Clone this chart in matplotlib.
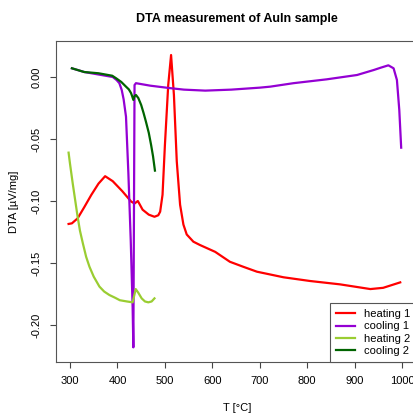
import matplotlib.pyplot as plt

plt.rcParams['font.family'] = ['Liberation Sans', 'DejaVu Sans']
plt.rcParams['axes.unicode_minus'] = False

# heating 1 (red)
h1_T = [297, 304, 310, 316, 330, 345, 360, 374, 390, 410, 429, 436, 443, 453, 466, 478,
        486, 490, 495, 500, 507, 513, 519, 525, 532, 539, 546, 560, 574, 606, 637, 665,
        694, 750, 806, 869, 933, 960, 996]
h1_v = [-0.1185, -0.118, -0.116, -0.114, -0.105, -0.095, -0.086, -0.080, -0.084, -0.092,
        -0.1005, -0.102, -0.100, -0.107, -0.111, -0.1127, -0.1115, -0.1086, -0.095, -0.055,
        -0.0065, 0.0177, -0.0145, -0.068, -0.103, -0.119, -0.127, -0.1328, -0.1355, -0.141,
        -0.149, -0.153, -0.157, -0.1615, -0.1645, -0.1672, -0.171, -0.170, -0.1656]

# cooling 1 (purple), in measured order from 1000 down
c1_T = [998, 994, 989, 982, 971, 955, 940, 905, 841, 771, 722, 700, 640, 585, 540, 511,
        469, 439, 436, 433.5, 432, 428, 423, 418, 413, 409, 404, 398, 390, 360, 330, 304]
c1_v = [-0.057, -0.0266, -0.0024, 0.007, 0.0094, 0.0075, 0.0056, 0.0016, -0.0019, -0.005,
        -0.0078, -0.0086, -0.0102, -0.011, -0.0102, -0.009, -0.007, -0.005, -0.0065, -0.218,
        -0.186, -0.132, -0.0774, -0.032, -0.018, -0.0105, -0.005, -0.0024, 0.0, 0.002,
        0.004, 0.007]

# heating 2 (light green)
h2_T = [297, 300, 305.7, 310, 316, 321, 327, 334, 341, 350, 362, 372, 383, 395, 405, 420,
        432, 438.5, 444, 451, 458, 465, 472, 478]
h2_v = [-0.061, -0.070, -0.0858, -0.097, -0.1126, -0.124, -0.134, -0.145, -0.153, -0.161,
        -0.169, -0.173, -0.1758, -0.178, -0.180, -0.181, -0.1817, -0.171, -0.174, -0.1785,
        -0.181, -0.1817, -0.181, -0.1785]

# cooling 2 (dark green), from 479 down
c2_T = [479, 475, 471, 466, 460, 455, 450, 444, 439, 436, 433.5, 431, 428.6, 424, 418,
        408, 397, 389, 360, 330, 304]
c2_v = [-0.0755, -0.064, -0.055, -0.045, -0.036, -0.029, -0.0226, -0.017, -0.0145,
        -0.0155, -0.0185, -0.0155, -0.013, -0.010, -0.0078, -0.004, -0.001, 0.001, 0.003,
        0.004, 0.007]

fig = plt.figure(figsize=(4.14, 4.13), dpi=100)
ax = fig.add_axes([0.1353, 0.1235, 0.875, 0.7772])

lw = 1.6
ax.plot(h1_T, h1_v, color='red', lw=lw, label='heating 1')
ax.plot(c1_T, c1_v, color='darkviolet', lw=lw, label='cooling 1')
ax.plot(h2_T, h2_v, color='yellowgreen', lw=lw, label='heating 2')
ax.plot(c2_T, c2_v, color='darkgreen', lw=lw, label='cooling 2')

ax.set_xlim(270.5, 1034)
ax.set_ylim(-0.2298, 0.029)
ax.set_xticks([300, 400, 500, 600, 700, 800, 900, 1000])
ax.set_yticks([0.0, -0.05, -0.10, -0.15, -0.20])
ax.set_yticklabels(['0.00', '-0.05', '-0.10', '-0.15', '-0.20'], rotation=90, va='center')
ax.tick_params(labelsize=8, length=4.3, color='#444444', pad=6)
for s in ax.spines.values():
    s.set_color('#555555')
ax.spines['right'].set_visible(False)

ax.set_title('DTA measurement of AuIn sample', fontsize=9, fontweight='bold', pad=14)
ax.set_xlabel('T [°C]', fontsize=8, labelpad=12)
ax.set_ylabel('DTA [µV/mg]', fontsize=8, labelpad=9)

leg = ax.legend(loc='lower right', bbox_to_anchor=(416 / 414, 0.1235),
                bbox_transform=fig.transFigure, borderaxespad=0, fontsize=8,
                fancybox=False, framealpha=1, edgecolor='#555555', handlelength=1.7,
                labelspacing=0.2, borderpad=0.55)
leg.get_frame().set_linewidth(0.8)

fig.savefig('out.png', dpi=100)
